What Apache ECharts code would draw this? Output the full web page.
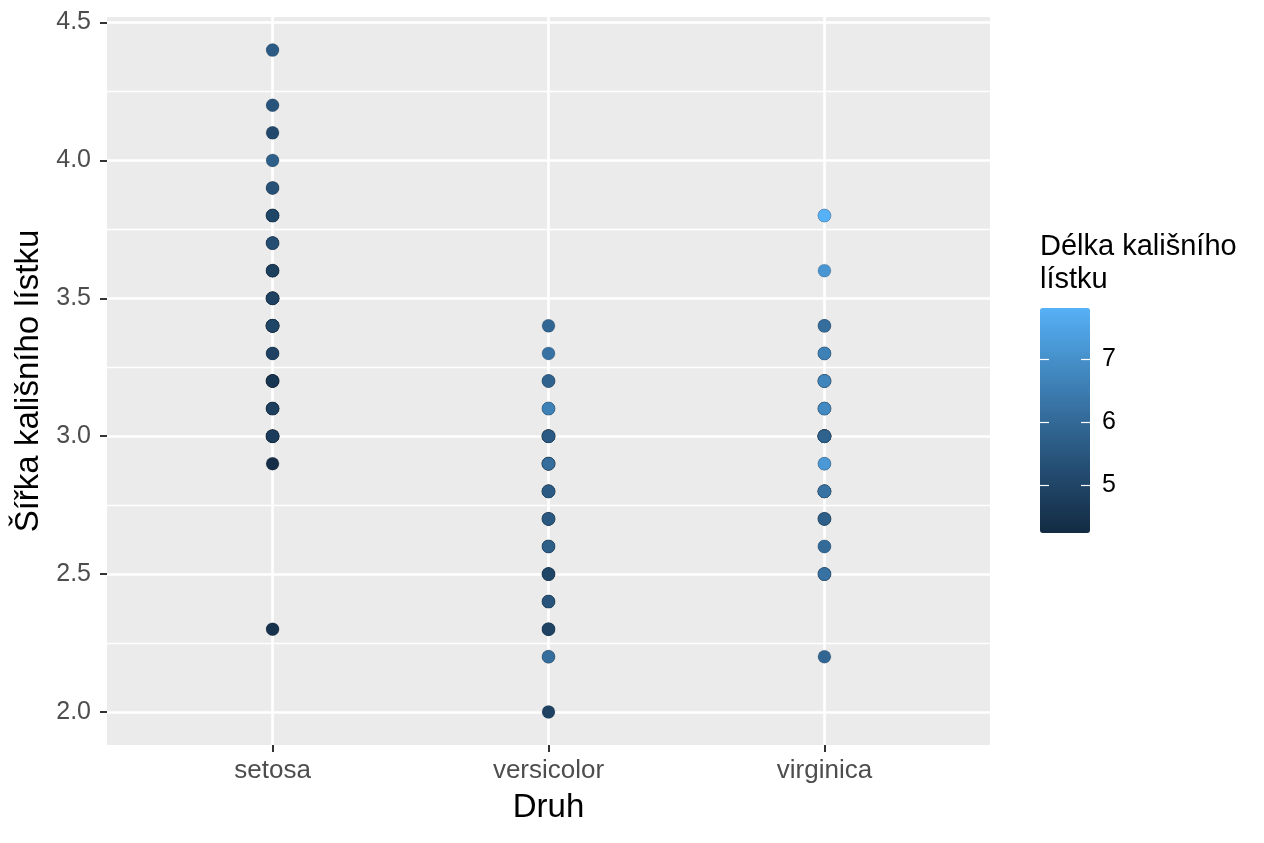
<!DOCTYPE html>
<html>
<head>
<meta charset="utf-8">
<script src="https://cdn.jsdelivr.net/npm/echarts@6/dist/echarts.min.js"></script>
<style>
  html, body { margin: 0; padding: 0; background: #fff; }
  #chart { width: 1264px; height: 843px; }
</style>
</head>
<body>
<div id="chart"></div>
<script>
// iris: sepal width (y) and sepal length (colour), row order kept so overlaps draw like the original
const species = ['setosa', 'versicolor', 'virginica'];

const setosaWidth = [3.5, 3.0, 3.2, 3.1, 3.6, 3.9, 3.4, 3.4, 2.9, 3.1, 3.7, 3.4, 3.0, 3.0, 4.0, 4.4, 3.9, 3.5, 3.8, 3.8,
    3.4, 3.7, 3.6, 3.3, 3.4, 3.0, 3.4, 3.5, 3.4, 3.2, 3.1, 3.4, 4.1, 4.2, 3.1, 3.2, 3.5, 3.6, 3.0, 3.4,
    3.5, 2.3, 3.2, 3.5, 3.8, 3.0, 3.8, 3.2, 3.7, 3.3];
const setosaLength = [5.1, 4.9, 4.7, 4.6, 5.0, 5.4, 4.6, 5.0, 4.4, 4.9, 5.4, 4.8, 4.8, 4.3, 5.8, 5.7, 5.4, 5.1, 5.7, 5.1,
    5.4, 5.1, 4.6, 5.1, 4.8, 5.0, 5.0, 5.2, 5.2, 4.7, 4.8, 5.4, 5.2, 5.5, 4.9, 5.0, 5.5, 4.9, 4.4, 5.1,
    5.0, 4.5, 4.4, 5.0, 5.1, 4.8, 5.1, 4.6, 5.3, 5.0];

const versicolorWidth = [3.2, 3.2, 3.1, 2.3, 2.8, 2.8, 3.3, 2.4, 2.9, 2.7, 2.0, 3.0, 2.2, 2.9, 2.9, 3.1, 3.0, 2.7, 2.2, 2.5,
    3.2, 2.8, 2.5, 2.8, 2.9, 3.0, 2.8, 3.0, 2.9, 2.6, 2.4, 2.4, 2.7, 2.7, 3.0, 3.4, 3.1, 2.3, 3.0, 2.5,
    2.6, 3.0, 2.6, 2.3, 2.7, 3.0, 2.9, 2.9, 2.5, 2.8];
const versicolorLength = [7.0, 6.4, 6.9, 5.5, 6.5, 5.7, 6.3, 4.9, 6.6, 5.2, 5.0, 5.9, 6.0, 6.1, 5.6, 6.7, 5.6, 5.8, 6.2, 5.6,
    5.9, 6.1, 6.3, 6.1, 6.4, 6.6, 6.8, 6.7, 6.0, 5.7, 5.5, 5.5, 5.8, 6.0, 5.4, 6.0, 6.7, 6.3, 5.6, 5.5,
    5.5, 6.1, 5.8, 5.0, 5.6, 5.7, 5.7, 6.2, 5.1, 5.7];

const virginicaWidth = [3.3, 2.7, 3.0, 2.9, 3.0, 3.0, 2.5, 2.9, 2.5, 3.6, 3.2, 2.7, 3.0, 2.5, 2.8, 3.2, 3.0, 3.8, 2.6, 2.2,
    3.2, 2.8, 2.8, 2.7, 3.3, 3.2, 2.8, 3.0, 2.8, 3.0, 2.8, 3.8, 2.8, 2.6, 3.0, 3.4, 3.1, 3.0, 3.1, 3.1,
    3.1, 2.7, 3.2, 3.3, 3.0, 2.5, 3.0, 3.4, 3.0, 3.2];
const virginicaLength = [6.3, 5.8, 7.1, 6.3, 6.5, 7.6, 4.9, 7.3, 6.7, 7.2, 6.5, 6.4, 6.8, 5.7, 5.8, 6.4, 6.5, 7.7, 7.7, 6.0,
    6.9, 5.6, 7.7, 6.3, 6.7, 7.2, 6.2, 6.1, 6.4, 7.2, 7.4, 7.9, 6.3, 6.1, 7.7, 6.3, 6.4, 6.0, 6.9, 6.7,
    6.9, 5.8, 6.8, 6.7, 6.7, 6.3, 6.5, 6.2, 5.9, 6.8];

const yTicks = [2.0, 2.5, 3.0, 3.5, 4.0, 4.5];
const yMinorTicks = [2.25, 2.75, 3.25, 3.75, 4.25];
const legendTicks = [5, 6, 7];

// ggplot default continuous scale (#132B43 -> #56B1F7, Lab interpolation approximated)
const gradient = ['#132B43', '#22496C', '#336A98', '#448DC6', '#56B1F7'];

const widths = [setosaWidth, versicolorWidth, virginicaWidth];
const lengths = [setosaLength, versicolorLength, virginicaLength];
const points = [];
widths.forEach((ws, s) => {
    ws.forEach((w, i) => points.push([s + 1, w, lengths[s][i]]));
});

const FONT = 'Liberation Sans, Arial, sans-serif';
const dom = document.getElementById('chart');
const myChart = echarts.init(dom, null, { renderer: 'canvas' });

const option = {
    backgroundColor: '#ffffff',
    animation: false,
    grid: [
        { left: 107, right: 274, top: 17, bottom: 98, show: true, backgroundColor: '#EBEBEB', borderWidth: 0 },
        { left: 1040, top: 303, width: 50, height: 226, show: false }
    ],
    xAxis: [{
        type: 'value',
        min: 0.4,
        max: 3.6,
        name: 'Druh',
        nameLocation: 'middle',
        nameGap: 46,
        nameTextStyle: { fontFamily: FONT, fontSize: 33, color: '#000' },
        axisLine: { show: false },
        axisTick: { show: true, length: 7, customValues: [1, 2, 3], lineStyle: { color: '#333', width: 2 } },
        axisLabel: {
            customValues: [1, 2, 3],
            margin: 13,
            fontFamily: FONT, fontSize: 26, color: '#4D4D4D',
            formatter: v => species[Math.round(v) - 1]
        },
        splitLine: { show: true, lineStyle: { color: '#fff', width: 2.6 } }
    }, {
        gridIndex: 1, type: 'value', show: false, min: 0, max: 1
    }],
    yAxis: [{
        type: 'value',
        min: 1.88,
        max: 4.52,
        name: 'Šířka kališního lístku',
        nameLocation: 'middle',
        nameGap: 60,
        nameTextStyle: { fontFamily: FONT, fontSize: 33, color: '#000' },
        axisLine: { show: false },
        axisTick: { show: true, length: 7, customValues: yTicks, lineStyle: { color: '#333', width: 2 } },
        axisLabel: {
            customValues: yTicks,
            margin: 16,
            fontFamily: FONT, fontSize: 25, color: '#4D4D4D',
            formatter: v => v.toFixed(1)
        },
        splitLine: { show: true, lineStyle: { color: '#fff', width: 2.6 } }
    }, {
        type: 'value',
        min: 1.88,
        max: 4.52,
        position: 'left',
        axisLine: { show: false },
        axisTick: { show: false, customValues: yMinorTicks },
        axisLabel: { show: false, customValues: yMinorTicks },
        splitLine: { show: true, lineStyle: { color: '#fff', width: 1.3 } }
    }, {
        // colourbar ticks, left edge
        gridIndex: 1, type: 'value', min: 4.3, max: 7.9, position: 'left', z: 20,
        axisLine: { show: false },
        axisTick: { show: true, inside: true, length: 9, customValues: legendTicks, lineStyle: { color: '#fff', width: 1.2 } },
        axisLabel: { show: false, customValues: legendTicks },
        splitLine: { show: false }
    }, {
        // colourbar ticks + labels, right edge
        gridIndex: 1, type: 'value', min: 4.3, max: 7.9, position: 'right', z: 20,
        axisLine: { show: false },
        axisTick: { show: true, inside: true, length: 9, customValues: legendTicks, lineStyle: { color: '#fff', width: 1.2 } },
        axisLabel: { customValues: legendTicks, margin: 12, fontFamily: FONT, fontSize: 25, color: '#000' },
        splitLine: { show: false }
    }],
    visualMap: {
        type: 'continuous',
        min: 4.3,
        max: 7.9,
        dimension: 2,
        seriesIndex: 0,
        calculable: false,
        hoverLink: false,
        left: 1040,
        top: 308,
        padding: 0,
        z: 2,
        itemWidth: 50,
        itemHeight: 225,
        text: null,
        showLabel: false,
        inRange: { color: gradient }
    },
    graphic: [{
        type: 'text',
        left: 1040,
        top: 230,
        z: 10,
        style: {
            text: 'Délka kališního\nlístku',
            font: '29px ' + FONT,
            lineHeight: 33,
            fill: '#000'
        }
    }],
    series: [{
        type: 'scatter',
        xAxisIndex: 0,
        yAxisIndex: 0,
        symbolSize: 13,
        data: points,
        itemStyle: { opacity: 1, borderColor: 'rgba(0,0,0,0.25)', borderWidth: 0.6 },
        emphasis: { disabled: true }
    }]
};

myChart.setOption(option);
window.addEventListener('resize', () => myChart.resize());
</script>
</body>
</html>
